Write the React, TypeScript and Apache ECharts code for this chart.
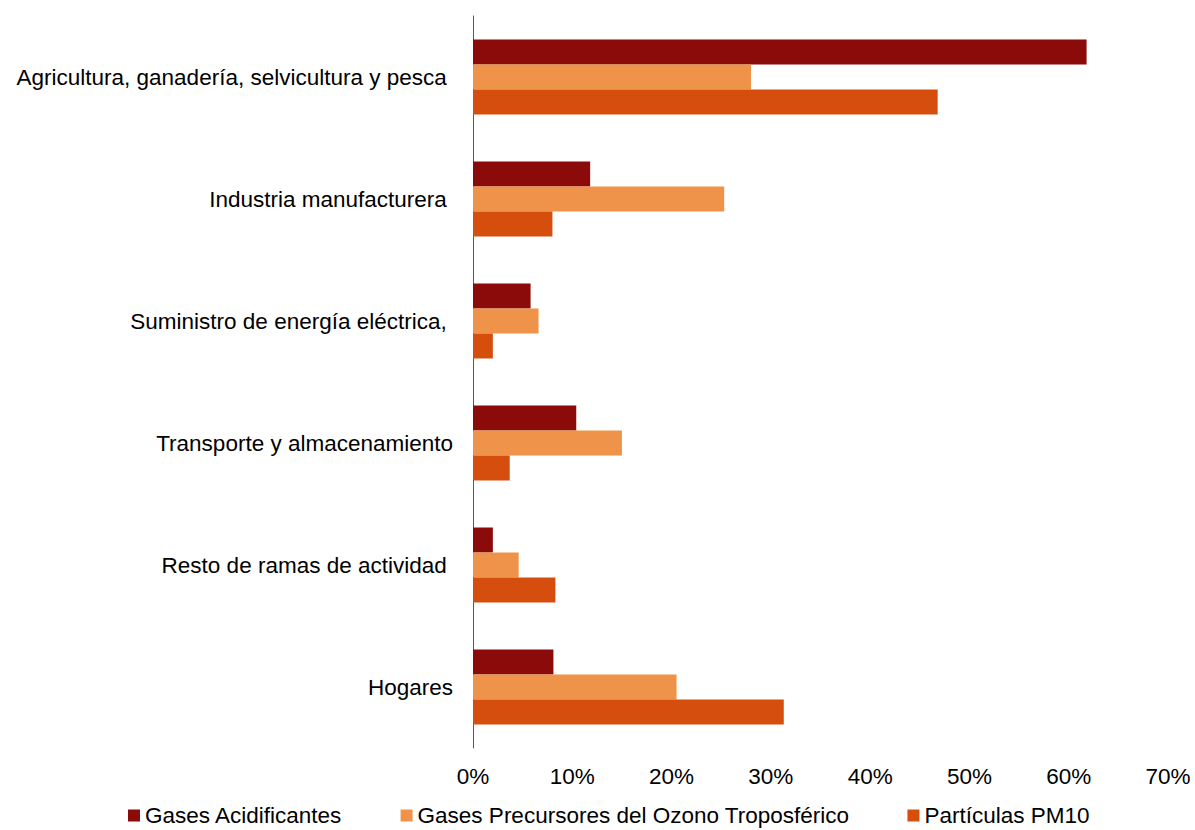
import React, { useEffect, useRef } from "react";
import * as echarts from "echarts";

const categories = [
  "Agricultura, ganadería, selvicultura y pesca ",
  "Industria manufacturera ",
  "Suministro de energía eléctrica, ",
  "Transporte y almacenamiento",
  "Resto de ramas de actividad ",
  "Hogares",
];
const seriesNames = [
  "Gases Acidificantes",
  "Gases Precursores del Ozono Troposférico",
  "Partículas PM10",
];
const gasesAcidificantes = [61.8, 11.8, 5.8, 10.4, 2.0, 8.1];
const gasesOzono = [28.0, 25.3, 6.6, 15.0, 4.6, 20.5];
const particulasPM10 = [46.8, 8.0, 2.0, 3.7, 8.3, 31.3];
const xTicks = [0, 10, 20, 30, 40, 50, 60, 70];
const colors = ["#8B0A0A", "#EE9349", "#D64E0E"];

export default function App() {
  const ref = useRef<HTMLDivElement>(null);
  useEffect(() => {
    if (!ref.current) return;
    const chart = echarts.init(ref.current, null, { renderer: "svg" });
    const font = "'Liberation Sans', Arial, sans-serif";
    const fs = 22.5;
    const data = [gasesAcidificantes, gasesOzono, particulasPM10];
    chart.setOption({
      animation: false,
      color: colors,
      textStyle: { fontFamily: font },
      grid: { left: 473, right: 27, top: 16, bottom: 82, containLabel: false },
      legend: {
        top: 804,
        left: 128,
        padding: [0, 0, 0, 0],
        itemWidth: 12,
        itemHeight: 12,
        itemGap: 58,
        icon: "rect",
        textStyle: { fontSize: fs, color: "#000", fontFamily: font },
        data: seriesNames,
      },
      xAxis: {
        type: "value",
        min: xTicks[0],
        max: xTicks[xTicks.length - 1],
        interval: 10,
        axisLine: { show: false },
        axisTick: { show: false },
        splitLine: { show: false },
        axisLabel: {
          fontSize: fs,
          color: "#000",
          fontFamily: font,
          margin: 17,
          formatter: (v: number) => `${v}%`,
        },
      },
      yAxis: {
        type: "category",
        inverse: true,
        data: categories,
        axisLine: { show: true, lineStyle: { color: "#595959", width: 1 } },
        axisTick: { show: false },
        axisLabel: { fontSize: fs, color: "#000", fontFamily: font, margin: 20 },
      },
      series: seriesNames.map((name, i) => ({
        name,
        type: "bar",
        data: data[i],
        barWidth: 25,
        barGap: "0%",
        barCategoryGap: "38%",
        itemStyle: { color: colors[i] },
      })),
    });
    return () => chart.dispose();
  }, []);
  return <div ref={ref} style={{ width: 1195, height: 830, position: "absolute", left: 0, top: 0 }} />;
}
